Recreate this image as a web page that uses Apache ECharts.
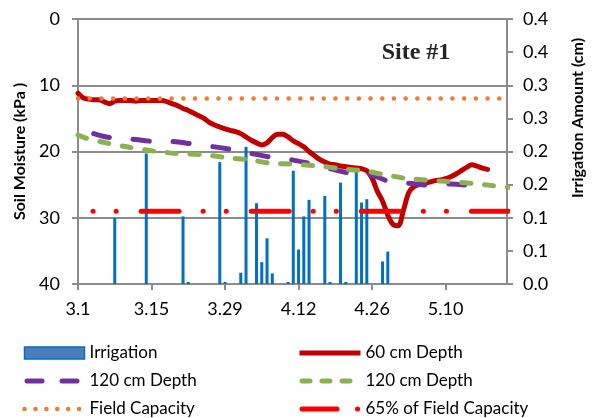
<!DOCTYPE html>
<html>
<head>
<meta charset="utf-8">
<script src="https://cdn.jsdelivr.net/npm/echarts@6/dist/echarts.min.js"></script>
<style>html,body{margin:0;padding:0;background:#fff;}#c{width:593px;height:418px;}</style>
</head>
<body>
<div id="c"></div>
<script>
// ---- data (x = days after March 1) ----
const xTickDays = [0, 14, 28, 42, 56, 70];
const xTickLabels = ['3.1', '3.15', '3.29', '4.12', '4.26', '5.10'];

const irrDays = [7, 13, 20, 21, 27, 28, 31, 32, 34, 35, 36, 37, 40, 41, 42, 43, 44, 47, 48, 50, 51, 53, 54, 55, 58, 59];
const irrAmt  = [0.100, 0.197, 0.102, 0.003, 0.184, 0.003, 0.017, 0.207, 0.122, 0.033, 0.069, 0.016, 0.003, 0.171, 0.052, 0.102, 0.127, 0.133, 0.003, 0.153, 0.003, 0.175, 0.123, 0.128, 0.034, 0.049];

// 60 cm depth, daily from day 0
const depth60 = [11.2, 11.9, 12.1, 12.2, 12.2, 12.5, 12.8, 12.4, 12.3, 12.3,
                 12.3, 12.4, 12.3, 12.3, 12.3, 12.3, 12.3, 12.5, 12.8, 13.1,
                 13.5, 13.8, 14.2, 14.6, 15.0, 15.6, 16.0, 16.3, 16.6, 16.8,
                 17.0, 17.3, 17.8, 18.3, 18.7, 19.0, 18.7, 17.9, 17.4, 17.4,
                 17.8, 18.4, 18.8, 19.3, 20.0, 20.6, 21.2, 21.6, 21.9, 22.0,
                 22.2, 22.3, 22.4, 22.5, 22.6, 22.9, 24.0, 26.0, 27.5, 29.6,
                 31.0, 31.2, 28.8, 26.2, 25.3, 25.0, 24.8, 24.6, 24.4, 24.3,
                 24.1, 23.8, 23.4, 22.9, 22.4, 22.0, 22.2, 22.5, 22.7];

const depth120aDays = [3, 6, 10, 15, 18, 22, 26, 30, 33, 37, 41, 44, 48, 52, 56, 60, 63, 67, 71, 75];
const depth120aVals = [17.3, 17.9, 18.1, 18.5, 18.5, 18.9, 19.3, 19.8, 20.3, 20.9, 21.3, 21.8, 22.6, 23.3, 23.6, 24.7, 24.8, 25.1, 24.9, 25.2];

const depth120bDays = [0, 2, 6, 10, 15, 19, 24, 28, 33, 37, 41, 46, 50, 55, 59, 63, 68, 72, 76, 82];
const depth120bVals = [17.5, 18.1, 18.8, 19.4, 20.0, 20.3, 20.5, 20.9, 21.3, 21.8, 21.9, 22.2, 22.6, 23.0, 23.6, 24.1, 24.4, 24.6, 24.9, 25.4];

const fcDays = [0, 82];
const fcVals = [12, 12];
const fc65Days = [0, 82];
const fc65Vals = [29, 29];

const N120A = '120 cm Depth';
const N120B = '120 cm Depth\u200b';

const gray = '#8c8c8c';
const font = 'Lato';
const noSym = { color: 'rgba(0,0,0,0)', opacity: 0, borderWidth: 0 };

const chart = echarts.init(document.getElementById('c'));
const pairs = (xs, ys) => xs.map((x, i) => [x, ys[i]]);

chart.setOption({
  animation: false,
  grid: { left: 78, right: 86, top: 19, bottom: 134 },
  xAxis: {
    type: 'value', min: 0, max: 81.7, interval: 14,
    axisLine: { onZero: false, lineStyle: { color: gray, width: 2 } },
    axisTick: { show: true, length: 6, customValues: xTickDays, lineStyle: { color: gray, width: 2 } },
    axisLabel: {
      customValues: xTickDays,
      formatter: v => { const i = xTickDays.indexOf(Math.round(v)); return i >= 0 ? xTickLabels[i] : ''; },
      fontFamily: font, fontSize: 18, color: '#000', margin: 16
    },
    splitLine: { show: false }
  },
  yAxis: [
    {
      type: 'value', inverse: true, min: 0, max: 40, interval: 10,
      name: 'Soil Moisture (kPa )', nameLocation: 'middle', nameGap: 48,
      nameTextStyle: { fontFamily: font, fontWeight: 'bold', fontSize: 16, color: '#000' },
      axisLine: { show: true, lineStyle: { color: gray, width: 2 } },
      axisTick: { show: true, length: 6, lineStyle: { color: gray, width: 2 } },
      axisLabel: { fontFamily: font, fontSize: 18, color: '#000', margin: 18 },
      splitLine: { show: true, lineStyle: { color: gray, width: 2 } }
    },
    {
      type: 'value', position: 'right', min: 0, max: 0.4, interval: 0.05,
      axisLine: { show: true, lineStyle: { color: gray, width: 2 } },
      axisTick: { show: true, length: 6, lineStyle: { color: gray, width: 2 } },
      axisLabel: {
        fontFamily: font, fontSize: 18, color: '#000', margin: 16,
        formatter: v => (Math.ceil(Math.round(v * 20) / 2) / 10).toFixed(1)
      },
      splitLine: { show: false }
    }
  ],
  legend: [
    {
      left: 22, top: 343, height: 100, padding: 0, orient: 'vertical', itemWidth: 60, itemHeight: 12, itemGap: 8,
      selectedMode: false,
      textStyle: { fontFamily: font, fontSize: 17, color: '#000', lineHeight: 20 },
      data: [
        { name: 'Irrigation', icon: 'rect', itemStyle: { color: '#4a7ebb', borderColor: '#0070c0', borderWidth: 1.5 } },
        { name: N120A, itemStyle: noSym, lineStyle: { width: 5, type: [15, 20], cap: 'round', dashOffset: -2.5 } },
        { name: 'Field Capacity', itemStyle: noSym, lineStyle: { width: 4.5, type: [0.1, 10.8], cap: 'round', dashOffset: 0 } }
      ]
    },
    {
      left: 297, top: 343, height: 100, padding: 0, orient: 'vertical', itemWidth: 61, itemHeight: 12, itemGap: 8,
      selectedMode: false,
      textStyle: { fontFamily: font, fontSize: 17, color: '#000', lineHeight: 20 },
      formatter: n => n.replace('\u200b', ''),
      data: [
        { name: '60 cm Depth', itemStyle: noSym, lineStyle: { width: 5, type: 'solid', cap: 'butt' } },
        { name: N120B, itemStyle: noSym, lineStyle: { width: 5, type: [8, 12], cap: 'round', dashOffset: -2.5 } },
        { name: '65% of Field Capacity', itemStyle: noSym, lineStyle: { width: 5, type: [35, 20.5, 0.1, 50], cap: 'round', dashOffset: -2.5 } }
      ]
    }
  ],
  graphic: [
    { type: 'text', x: 416, y: 53, style: { text: 'Site #1', font: 'bold 24px "Liberation Serif"', fill: '#262626', align: 'center', verticalAlign: 'middle' } },
    { type: 'text', x: 578, y: 118, rotation: Math.PI / 2, style: { text: 'Irrigation Amount (cm)', font: 'bold 16px Lato', fill: '#000', align: 'center', verticalAlign: 'middle' } }
  ],
  series: [
    {
      name: 'Irrigation', type: 'bar', xAxisIndex: 0, yAxisIndex: 1, barWidth: 3,
      data: pairs(irrDays, irrAmt), itemStyle: { color: '#0070c0' }
    },
    {
      name: '60 cm Depth', type: 'line', yAxisIndex: 0, symbol: 'none', smooth: 0.3,
      data: depth60.map((v, i) => [i, v]),
      lineStyle: { color: '#c00000', width: 5, cap: 'round', join: 'round' }
    },
    {
      name: N120A, type: 'line', yAxisIndex: 0, symbol: 'none', smooth: 0.3,
      data: pairs(depth120aDays, depth120aVals),
      lineStyle: { color: '#7030a0', width: 5, type: [16, 24], cap: 'round' }
    },
    {
      name: N120B, type: 'line', yAxisIndex: 0, symbol: 'none', smooth: 0.3,
      data: pairs(depth120bDays, depth120bVals),
      lineStyle: { color: '#8db050', width: 5, type: [9, 13.8], cap: 'round' }
    },
    {
      name: 'Field Capacity', type: 'line', yAxisIndex: 0, symbol: 'none',
      data: pairs(fcDays, fcVals),
      lineStyle: { color: '#ed7d31', width: 4.5, type: [0.1, 11.6], cap: 'round' }
    },
    {
      name: '65% of Field Capacity', type: 'line', yAxisIndex: 0, symbol: 'none',
      data: pairs(fc65Days, fc65Vals),
      lineStyle: { color: '#ff0000', width: 5, type: [38, 24, 0.1, 23, 0.1, 24.9], dashOffset: 47, cap: 'round' }
    }
  ]
});
</script>
</body>
</html>
